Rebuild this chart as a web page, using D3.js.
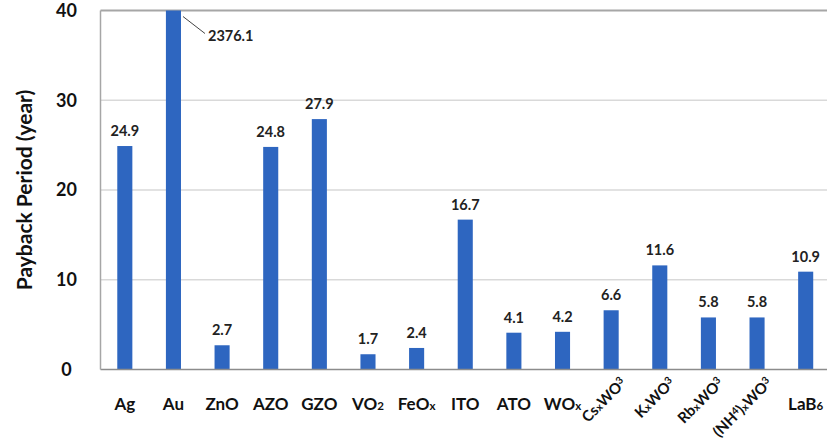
<!DOCTYPE html>
<html>
<head>
<meta charset="utf-8">
<script src="https://cdn.jsdelivr.net/npm/d3@7"></script>
<style>
  html, body { margin: 0; padding: 0; background: #fff; }
  svg { display: block; font-family: Lato, "Open Sans", sans-serif; }
</style>
</head>
<body>
<svg id="chart" width="827" height="444"></svg>
<script>
// Material names, split into [text, kind] parts: "n" normal, "sub" small baseline, "sup" small raised
const categories = ["Ag", "Au", "ZnO", "AZO", "GZO", "VO2", "FeOx", "ITO", "ATO", "WOx",
                    "CsxWO3", "KxWO3", "RbxWO3", "(NH4)xWO3", "LaB6"];
const labelParts = [
  [["Ag", "n"]],
  [["Au", "n"]],
  [["ZnO", "n"]],
  [["AZO", "n"]],
  [["GZO", "n"]],
  [["VO", "n"], ["2", "sub"]],
  [["FeO", "n"], ["x", "sub"]],
  [["ITO", "n"]],
  [["ATO", "n"]],
  [["WO", "n"], ["x", "sub"]],
  [["Cs", "n"], ["x", "sub"], ["WO", "n"], ["3", "sup"]],
  [["K", "n"], ["x", "sub"], ["WO", "n"], ["3", "sup"]],
  [["Rb", "n"], ["x", "sub"], ["WO", "n"], ["3", "sup"]],
  [["(NH", "n"], ["4", "sup"], [")", "n"], ["x", "sub"], ["WO", "n"], ["3", "sup"]],
  [["LaB", "n"], ["6", "sub"]]
];
const rotated = [false, false, false, false, false, false, false, false, false, false,
                 true, true, true, true, false];
// Payback period in years
const payback = [24.9, 2376.1, 2.7, 24.8, 27.9, 1.7, 2.4, 16.7, 4.1, 4.2, 6.6, 11.6, 5.8, 5.8, 10.9];
const yTicks = [0, 10, 20, 30, 40];
const yTitle = "Payback Period (year)";

const data = categories.map((c, i) => ({ name: c, value: payback[i], parts: labelParts[i], rot: rotated[i] }));

const svg = d3.select("#chart");
const plotLeft = 100.5, plotRight = 830, plotTop = 10.5, plotBottom = 369.5;

const x = d3.scaleBand().domain(categories).range([plotLeft, plotRight]).paddingInner(0.69).paddingOuter(0.345);
const y = d3.scaleLinear().domain([0, 40]).range([plotBottom, plotTop]).clamp(true);

// gridlines
svg.append("g").selectAll("line").data(yTicks.filter(t => t > 0 && t < 40)).join("line")
  .attr("x1", plotLeft).attr("x2", 827).attr("y1", d => y(d)).attr("y2", d => y(d))
  .attr("stroke", "#d9d9d9").attr("stroke-width", 1.5);

// top frame line
svg.append("line").attr("x1", plotLeft).attr("x2", 827).attr("y1", y(40)).attr("y2", y(40))
  .attr("stroke", "#a6a6a6").attr("stroke-width", 2);

// bars
svg.append("g").selectAll("rect").data(data).join("rect")
  .attr("x", d => x(d.name)).attr("width", x.bandwidth())
  .attr("y", d => y(d.value)).attr("height", d => y(0) - y(d.value))
  .attr("fill", "#2e66c0");

// axis lines
svg.append("line").attr("x1", plotLeft).attr("x2", 827).attr("y1", y(0)).attr("y2", y(0))
  .attr("stroke", "#8c8c8c").attr("stroke-width", 1.5);
svg.append("line").attr("x1", plotLeft).attr("x2", plotLeft).attr("y1", y(0)).attr("y2", y(40))
  .attr("stroke", "#a6a6a6").attr("stroke-width", 1.5);

// y axis tick labels
const yAxis = d3.axisLeft(y).tickValues(yTicks).tickSize(0).tickPadding(34);
const gy = svg.append("g").attr("transform", `translate(${plotLeft},0)`).call(yAxis);
gy.select(".domain").remove();
gy.selectAll("text").attr("font-size", 18).attr("font-weight", "bold").attr("fill", "#111")
  .attr("text-anchor", "middle")
  .attr("font-family", "Lato, 'Open Sans', sans-serif");

// y axis title
svg.append("text").attr("transform", "translate(32,190) rotate(-90)")
  .attr("text-anchor", "middle").attr("font-size", 21).attr("font-weight", "bold")
  .attr("fill", "#111").text(yTitle);

// value labels
const cx = d => x(d.name) + x.bandwidth() / 2;
svg.append("g").selectAll("text").data(data.filter(d => d.value <= 40)).join("text")
  .attr("x", cx).attr("y", d => y(d.value) - 10)
  .attr("text-anchor", "middle").attr("font-size", 14.5).attr("font-weight", "bold")
  .attr("fill", "#222").text(d => d.value.toFixed(1));

// off-scale bar: leader line and label
data.filter(d => d.value > 40).forEach(d => {
  const x0 = x(d.name) + x.bandwidth() + 2;
  svg.append("line").attr("x1", x0).attr("y1", y(d.value) + 6).attr("x2", x0 + 22).attr("y2", y(d.value) + 23)
    .attr("stroke", "#444").attr("stroke-width", 1);
  svg.append("text").attr("x", x0 + 25).attr("y", y(d.value) + 30)
    .attr("font-size", 14.5).attr("font-weight", "bold").attr("fill", "#222")
    .text(d.value.toFixed(1));
});

// category labels with chemical sub/superscripts
const gx = svg.append("g");
data.forEach(d => {
  const size = d.rot ? 15 : 17;
  const t = gx.append("text").attr("font-weight", "bold").attr("fill", "#111")
    .attr("font-size", size);
  if (d.rot) {
    t.attr("text-anchor", "end")
      .attr("transform", `translate(${cx(d) + 16},384) rotate(-45)`);
  } else {
    t.attr("text-anchor", "middle").attr("x", cx(d)).attr("y", 410);
  }
  let raised = false;
  d.parts.forEach(([s, kind]) => {
    const ts = t.append("tspan").text(s);
    if (kind === "sub") {
      ts.attr("font-size", size * 0.68);
      if (raised) { ts.attr("dy", size * 0.3); raised = false; }
    } else if (kind === "sup") {
      ts.attr("font-size", size * 0.68);
      if (!raised) { ts.attr("dy", -size * 0.3); raised = true; }
    } else if (raised) {
      ts.attr("dy", size * 0.3); raised = false;
    }
  });
});
</script>
</body>
</html>
